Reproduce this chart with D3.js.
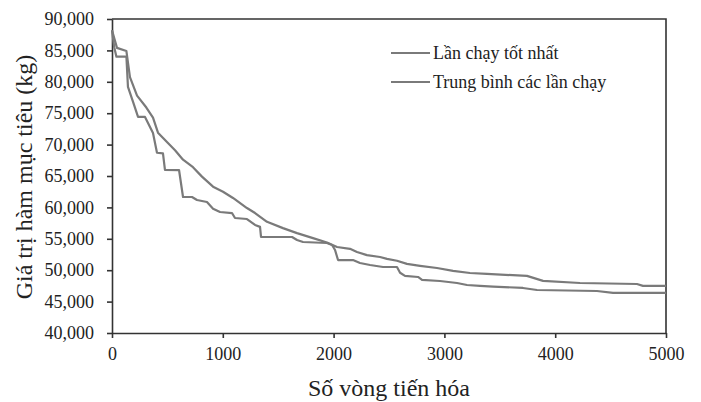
<!DOCTYPE html>
<html lang="vi">
<head>
<meta charset="utf-8"/>
<title>Giá trị hàm mục tiêu</title>
<script src="https://cdn.jsdelivr.net/npm/d3@7/dist/d3.min.js"></script>
<style>
  body { margin: 0; background: #fff; }
  svg text { font-family: "Liberation Serif", "Times New Roman", serif; fill: #222; }
</style>
</head>
<body>
<svg id="chart" width="701" height="402"></svg>
<script>
// generation number / objective value (kg)
const bestGen = [0, 20, 40, 130, 144, 190, 235, 298, 370, 406, 460, 478, 605, 641, 722, 767, 857, 912, 975, 1083, 1110, 1218, 1291, 1336, 1345, 1625, 1670, 1724, 1940, 1986, 2013, 2040, 2175, 2238, 2329, 2446, 2572, 2600, 2644, 2762, 2798, 2960, 3114, 3204, 3321, 3439, 3709, 3836, 4377, 4522, 5000];
const bestVal = [88200, 85500, 84000, 84000, 79200, 76800, 74400, 74400, 71850, 68700, 68600, 65960, 65950, 61660, 61660, 61180, 60860, 59800, 59270, 59100, 58310, 58150, 57200, 56900, 55290, 55290, 54810, 54490, 54330, 54010, 53220, 51620, 51620, 51150, 50830, 50510, 50510, 49600, 49100, 48920, 48450, 48280, 47960, 47640, 47500, 47400, 47170, 46850, 46690, 46400, 46400];

const avgGen = [0, 45, 130, 162, 226, 310, 370, 415, 496, 569, 641, 731, 812, 912, 1002, 1092, 1218, 1291, 1399, 1543, 1670, 1814, 1940, 2031, 2148, 2211, 2301, 2419, 2482, 2572, 2662, 2780, 2933, 3078, 3231, 3384, 3745, 3890, 4224, 4738, 4792, 5000];
const avgVal = [88200, 85400, 84900, 80760, 77800, 75900, 74300, 71900, 70400, 69100, 67600, 66400, 64900, 63300, 62500, 61500, 59900, 59100, 57700, 56700, 55900, 55100, 54400, 53700, 53400, 52900, 52400, 52100, 51800, 51500, 51000, 50700, 50350, 49900, 49550, 49400, 49100, 48300, 47960, 47800, 47500, 47500];

const xTicks = [0, 1000, 2000, 3000, 4000, 5000];
const yTicks = [40000, 45000, 50000, 55000, 60000, 65000, 70000, 75000, 80000, 85000, 90000];
const seriesNames = ['Lần chạy tốt nhất', 'Trung bình các lần chạy'];

const svg = d3.select('#chart');
const margin = {left: 112, right: 35, top: 19, bottom: 69};
const width = 701 - margin.left - margin.right;
const height = 402 - margin.top - margin.bottom;

const g = svg.append('g').attr('transform', 'translate(' + margin.left + ',' + margin.top + ')');

const x = d3.scaleLinear().domain([0, 5000]).range([0, width]);
const y = d3.scaleLinear().domain([40000, 90000]).range([height, 0]);

// frame (top and right)
g.append('path')
  .attr('d', 'M0,0H' + width + 'V' + height)
  .attr('fill', 'none')
  .attr('stroke', '#333')
  .attr('stroke-width', 1.6);

const xAxis = g.append('g')
  .attr('transform', 'translate(0,' + height + ')')
  .call(d3.axisBottom(x).tickValues(xTicks).tickFormat(d3.format('d')).tickSize(5).tickPadding(9).tickSizeOuter(0));

const yAxis = g.append('g')
  .call(d3.axisLeft(y).tickValues(yTicks).tickFormat(d3.format(',')).tickSize(5).tickPadding(13).tickSizeOuter(0));

[xAxis, yAxis].forEach((a) => {
  a.selectAll('path, line').attr('stroke', '#333').attr('stroke-width', 1.6);
  a.selectAll('text').style('font-size', '18px').attr('fill', '#222');
});

const line = d3.line().x((d) => x(d[0])).y((d) => y(d[1]));

const series = [
  d3.zip(bestGen, bestVal),
  d3.zip(avgGen, avgVal)
];

g.selectAll('path.series')
  .data(series)
  .enter()
  .append('path')
  .attr('class', 'series')
  .attr('d', line)
  .attr('fill', 'none')
  .attr('stroke', '#7a7a7a')
  .attr('stroke-width', 2.2)
  .attr('stroke-linejoin', 'round');

// legend
const legend = g.append('g').attr('transform', 'translate(279,34)');
seriesNames.forEach((name, i) => {
  const row = legend.append('g').attr('transform', 'translate(0,' + (i * 29) + ')');
  row.append('line')
    .attr('x1', 0).attr('x2', 39)
    .attr('stroke', '#7a7a7a').attr('stroke-width', 2.2);
  row.append('text')
    .attr('x', 42).attr('dy', '0.32em')
    .style('font-size', '18px')
    .text(name);
});

// axis titles
svg.append('text')
  .attr('x', 389)
  .attr('y', 396)
  .attr('text-anchor', 'middle')
  .style('font-size', '24px')
  .text('Số vòng tiến hóa');

svg.append('text')
  .attr('transform', 'translate(32,177) rotate(-90)')
  .attr('text-anchor', 'middle')
  .style('font-size', '24px')
  .text('Giá trị hàm mục tiêu (kg)');
</script>
</body>
</html>
